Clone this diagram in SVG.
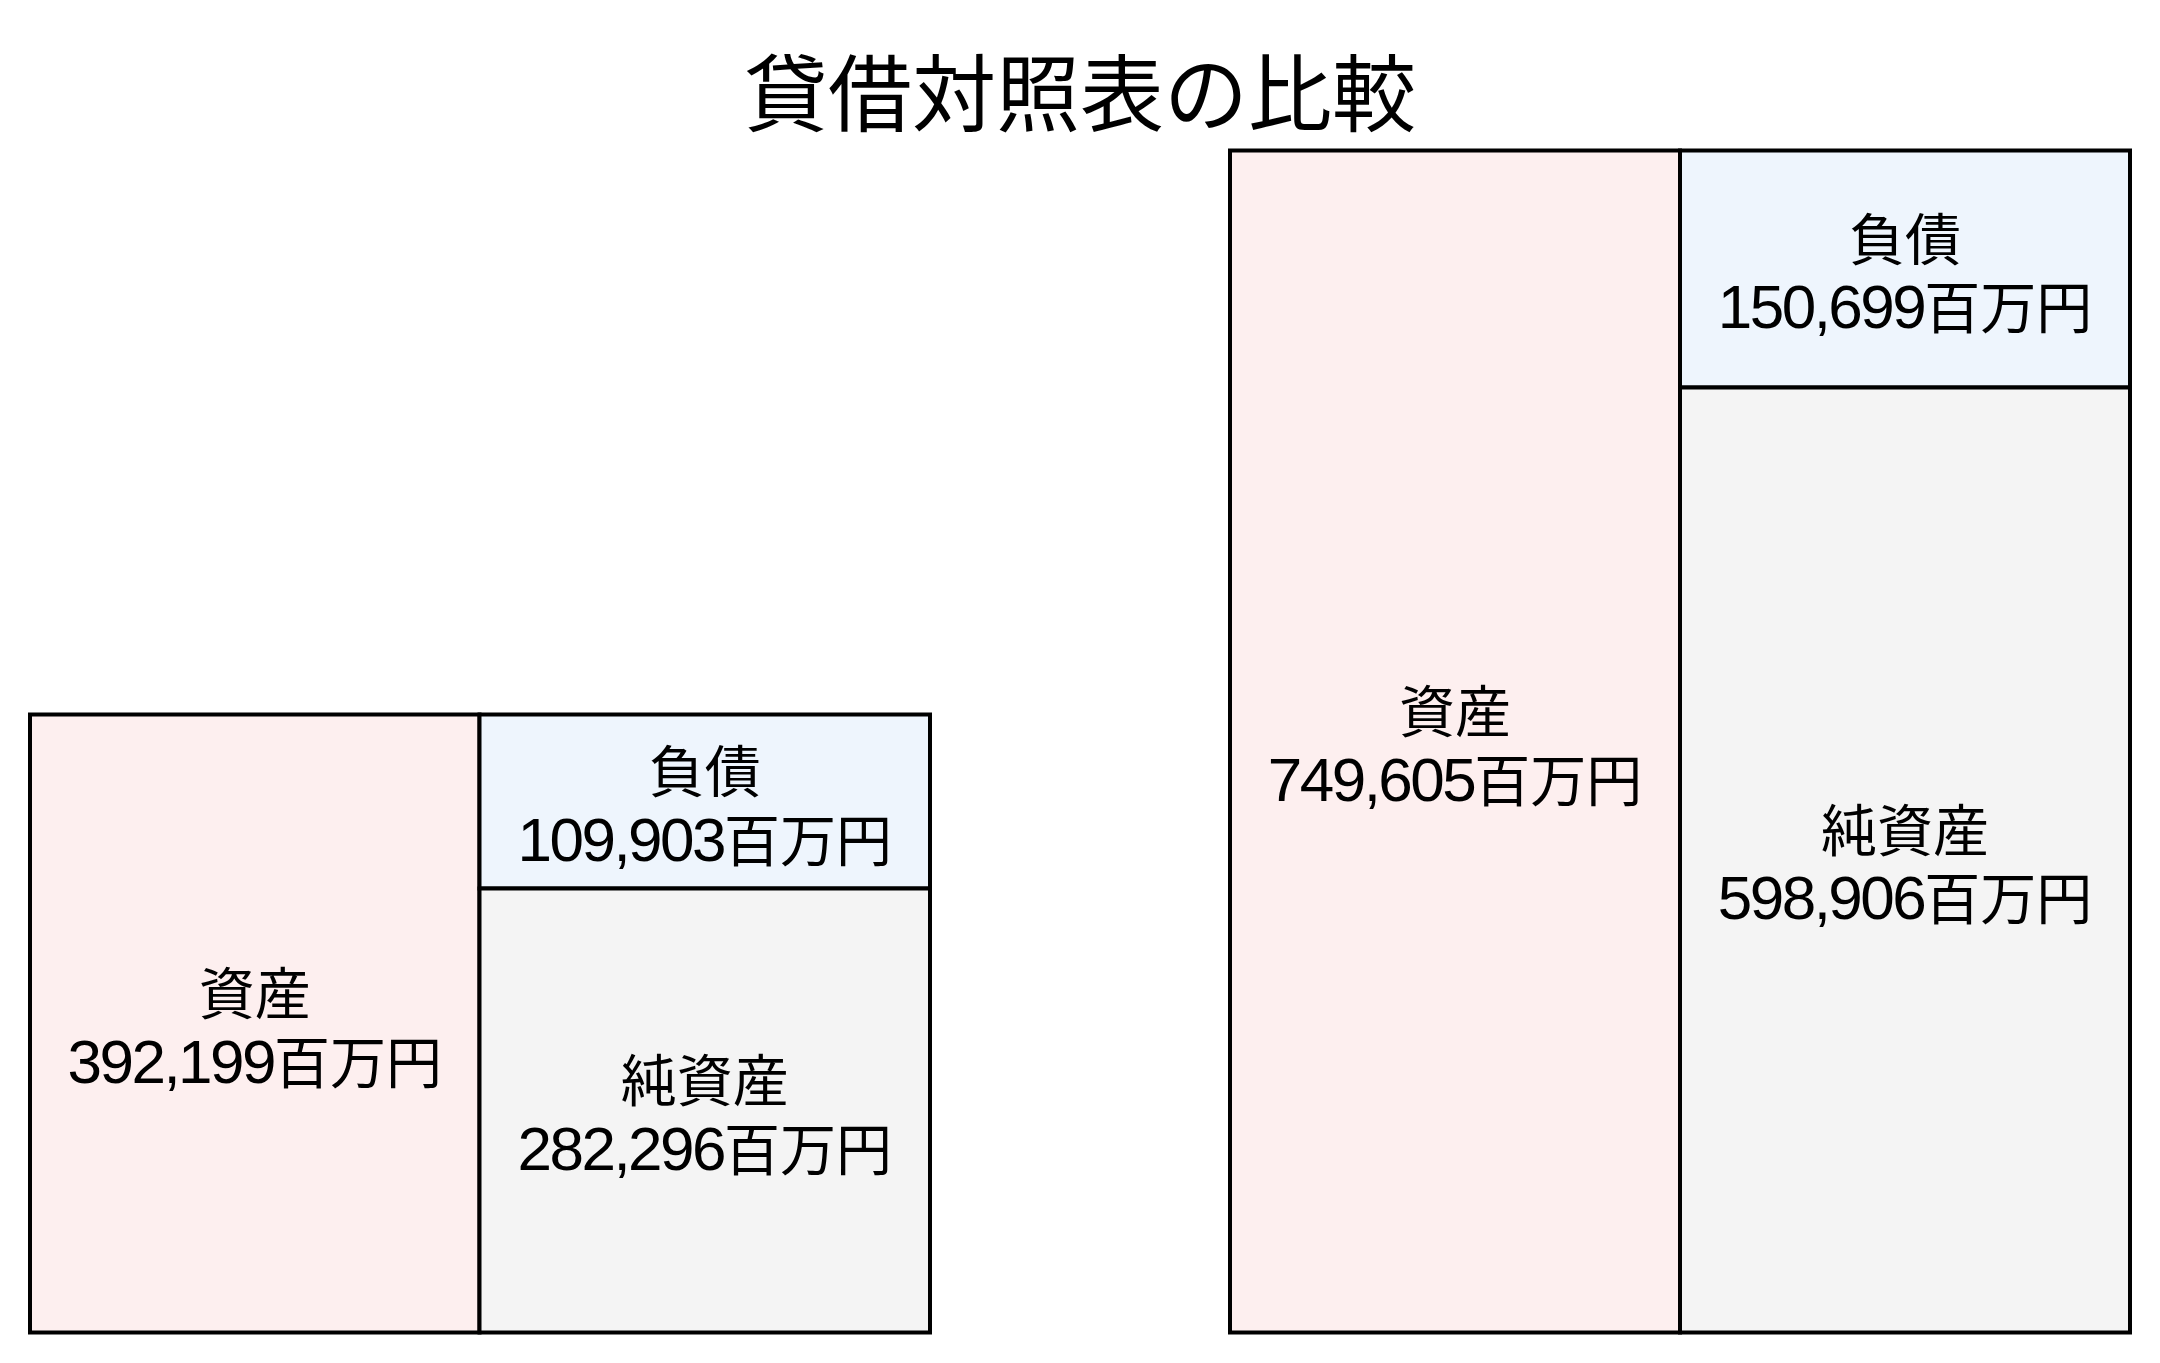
<svg xmlns="http://www.w3.org/2000/svg" width="2160" height="1363" viewBox="0 0 2160 1363">
<style>
.bg{fill:#ffffff}
.box{stroke:#000000;stroke-width:4}
.asset{fill:#FDEFEF}
.liab{fill:#EEF5FD}
.net{fill:#F4F4F4}
.lbl{font-family:"Liberation Sans","Noto Sans CJK JP",sans-serif;font-size:56px;fill:#000000;text-anchor:middle}
.num{font-size:62px;letter-spacing:-2.5px}
.title{font-family:"Noto Sans CJK JP",sans-serif;font-size:84px;fill:#000000;text-anchor:middle}
</style>
<rect class="bg" x="0" y="0" width="2160" height="1363"/>
<text id="title" class="title" x="1080" y="125">貸借対照表の比較</text>
<g id="left-assets">
<rect class="box asset" x="30" y="714.5" width="449.5" height="618"/>
<text class="lbl" x="254.75" y="1014">資産</text>
<text class="lbl" x="254.75" y="1082.5"><tspan class="num">392,199</tspan>百万円</text>
</g>
<g id="left-liabilities">
<rect class="box liab" x="479.5" y="714.5" width="450.5" height="174"/>
<text class="lbl" x="704.75" y="792">負債</text>
<text class="lbl" x="704.75" y="860.5"><tspan class="num">109,903</tspan>百万円</text>
</g>
<g id="left-net-assets">
<rect class="box net" x="479.5" y="888.5" width="450.5" height="444"/>
<text class="lbl" x="704.75" y="1101">純資産</text>
<text class="lbl" x="704.75" y="1169.5"><tspan class="num">282,296</tspan>百万円</text>
</g>
<g id="right-assets">
<rect class="box asset" x="1230" y="150.5" width="450" height="1182"/>
<text class="lbl" x="1455" y="732">資産</text>
<text class="lbl" x="1455" y="800.5"><tspan class="num">749,605</tspan>百万円</text>
</g>
<g id="right-liabilities">
<rect class="box liab" x="1680" y="150.5" width="450" height="237"/>
<text class="lbl" x="1905" y="259.5">負債</text>
<text class="lbl" x="1905" y="328"><tspan class="num">150,699</tspan>百万円</text>
</g>
<g id="right-net-assets">
<rect class="box net" x="1680" y="387.5" width="450" height="945"/>
<text class="lbl" x="1905" y="850.5">純資産</text>
<text class="lbl" x="1905" y="919"><tspan class="num">598,906</tspan>百万円</text>
</g>
<g id="connectors"></g>
</svg>
